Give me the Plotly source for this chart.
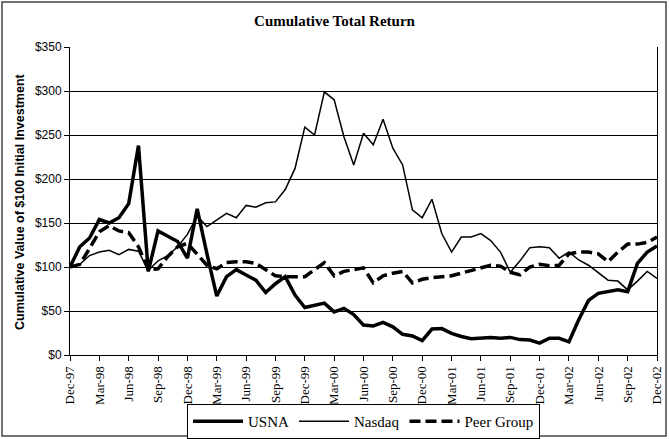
import plotly.graph_objects as go

months = ["Dec-97",
          "Jan-98", "Feb-98", "Mar-98", "Apr-98", "May-98", "Jun-98", "Jul-98", "Aug-98", "Sep-98", "Oct-98", "Nov-98", "Dec-98",
          "Jan-99", "Feb-99", "Mar-99", "Apr-99", "May-99", "Jun-99", "Jul-99", "Aug-99", "Sep-99", "Oct-99", "Nov-99", "Dec-99",
          "Jan-00", "Feb-00", "Mar-00", "Apr-00", "May-00", "Jun-00", "Jul-00", "Aug-00", "Sep-00", "Oct-00", "Nov-00", "Dec-00",
          "Jan-01", "Feb-01", "Mar-01", "Apr-01", "May-01", "Jun-01", "Jul-01", "Aug-01", "Sep-01", "Oct-01", "Nov-01", "Dec-01",
          "Jan-02", "Feb-02", "Mar-02", "Apr-02", "May-02", "Jun-02", "Jul-02", "Aug-02", "Sep-02", "Oct-02", "Nov-02", "Dec-02"]

usna = [100,
        123, 133, 154, 150, 156, 172, 238, 95, 141, 135, 129, 110,
        166, 115, 67, 89, 97, 91, 85, 71, 81, 89, 68, 54,
        56, 59, 49, 53, 46, 34, 33, 37, 32, 23.5, 21.6, 16.3,
        29.5, 30, 24.6, 21, 18.5, 19, 20, 19, 20, 17.5, 17, 13.5,
        19, 19, 15, 40, 62, 70, 72, 74, 72, 104, 117, 124]

nasdaq = [100,
          103, 113, 117, 119, 114, 120, 118, 96, 107, 113, 123, 137,
          158, 146, 153, 161, 156, 170, 168, 173, 174, 188, 212, 259,
          250, 299, 290, 248, 216, 252, 239, 268, 235, 216, 165, 156,
          177, 138, 117, 134, 134, 138, 130, 117, 94, 107, 122, 123,
          122, 110, 117, 108, 102, 93, 85, 84, 74, 84, 95, 87]

peer = [100,
        103, 121, 140, 147, 141, 139, 123, 97, 98, 112, 123, 127,
        115, 102, 98, 105, 106, 106, 104, 97, 90, 89, 89, 89,
        97, 105, 90, 95, 97, 99, 82, 90, 93, 95, 82, 86,
        88, 89, 90, 93, 96, 98.5, 102, 101, 94, 91, 100, 103,
        101.5, 102, 115, 117, 117, 115, 106, 117, 126, 126, 128, 134]

tick_labels = months[::3]
y_ticks = [0, 50, 100, 150, 200, 250, 300, 350]
y_tick_text = ["$0", "$50", "$100", "$150", "$200", "$250", "$300", "$350"]

fig = go.Figure()
fig.add_trace(go.Scatter(x=months, y=usna, name="USNA", mode="lines",
                         line=dict(color="black", width=3.5)))
fig.add_trace(go.Scatter(x=months, y=nasdaq, name="Nasdaq", mode="lines",
                         line=dict(color="black", width=1.5)))
fig.add_trace(go.Scatter(x=months, y=peer, name="Peer Group", mode="lines",
                         line=dict(color="black", width=3.5, dash="11px,5px")))

fig.update_layout(
    width=669, height=439,
    margin=dict(l=70, r=12, t=47, b=84, autoexpand=False),
    paper_bgcolor="white", plot_bgcolor="white",
    title=dict(text="<b>Cumulative Total Return</b>", x=0.5, xref="container",
               xanchor="center", y=1 - 21 / 439, yanchor="middle",
               font=dict(family="Liberation Serif", size=15, color="black")),
    showlegend=True,
    legend=dict(orientation="h", x=0.5, xanchor="center",
                yref="container", y=1 - 404 / 439, yanchor="top",
                bordercolor="black", borderwidth=1, itemwidth=50,
                font=dict(family="Liberation Serif", size=15, color="black"),
                tracegroupgap=0),
    xaxis=dict(type="category", range=[0, 60], tickmode="array",
               tickvals=tick_labels, ticktext=tick_labels, tickangle=-90,
               ticks="outside", ticklen=5, tickcolor="black",
               showline=True, linecolor="black", linewidth=1,
               showgrid=False, zeroline=False, automargin=False,
               tickfont=dict(family="Liberation Serif", size=13, color="black")),
    yaxis=dict(range=[0, 350], tickvals=y_ticks, ticktext=y_tick_text,
               ticks="outside", ticklen=5, tickcolor="black",
               showline=True, linecolor="black", linewidth=1, mirror=True,
               showgrid=True, gridcolor="black", gridwidth=1, zeroline=False,
               automargin=False,
               tickfont=dict(family="Liberation Sans", size=12, color="black")),
    annotations=[dict(text="<b>Cumulative Value of $100 Initial Investment</b>",
                      xref="paper", yref="paper", x=(20 - 70) / 587, y=0.497,
                      xanchor="center", yanchor="middle",
                      textangle=-90, showarrow=False,
                      font=dict(family="Liberation Sans", size=12.5, color="black"))],
    shapes=[dict(type="rect", xref="paper", yref="paper",
                 x0=(2 - 70) / 587, x1=(666 - 70) / 587,
                 y0=(355 - 436) / 308, y1=(355 - 2) / 308,
                 line=dict(color="#444444", width=1.5))],
)

fig.write_html("out.html",
               config={"displayModeBar": False},
               post_script="document.body.style.margin='0';document.body.style.padding='0';document.body.style.overflow='hidden';")
